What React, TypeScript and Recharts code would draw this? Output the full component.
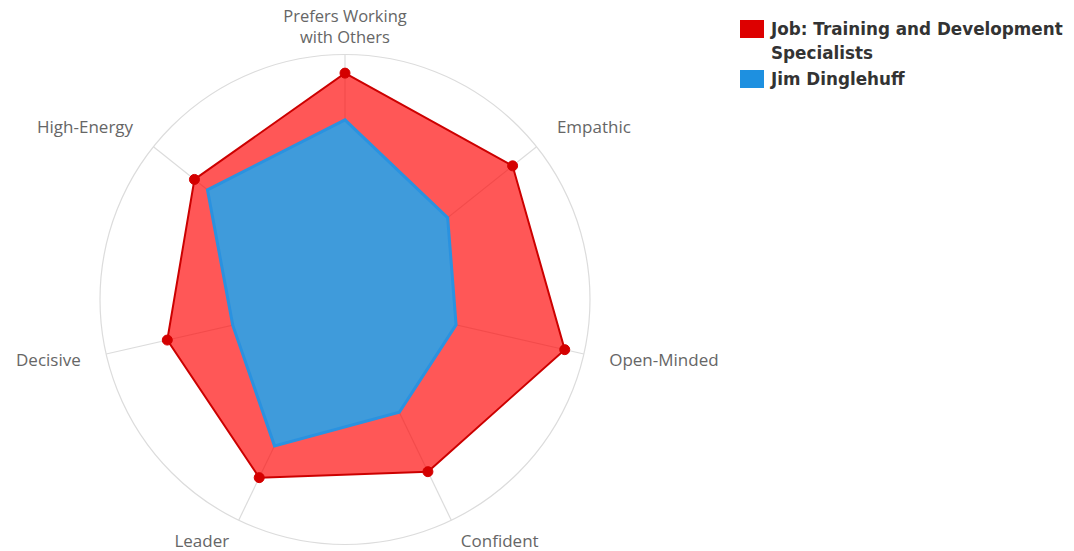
import React from "react";
import { RadarChart, Radar, PolarGrid, PolarAngleAxis, PolarRadiusAxis, Legend } from "recharts";

const categories = ["Prefers Working with Others", "Empathic", "Open-Minded", "Confident", "Leader", "Decisive", "High-Energy"];
const jobValues = [92.4, 87.5, 92, 78, 80.7, 74.4, 78.6];
const personValues = [73.3, 53.6, 46.5, 51.1, 66.3, 47, 71.8];
const seriesNames = ["Job: Training and Development Specialists", "Jim Dinglehuff"];
const seriesColors = ["#dd0000", "#1e90e0"];

const data = categories.map((c, i) => ({ name: c, job: jobValues[i], person: personValues[i] }));

const CX = 337;
const CY = 299.5;
const R = 245;

const AngleTick = (props: any) => {
  const { payload, index } = props;
  const n = categories.length;
  const ang = (90 - (360 / n) * index) * Math.PI / 180;
  const cos = Math.cos(ang);
  const sin = Math.sin(ang);
  const d = R + 26;
  let x = CX + cos * d;
  let y = CY - sin * d;
  let anchor: "start" | "middle" | "end" = Math.abs(cos) < 0.1 ? "middle" : cos > 0 ? "start" : "end";
  const label: string = payload.value;
  const style = { fontFamily: "'Open Sans', sans-serif", fontSize: 17, fill: "#666" };
  if (anchor === "middle" && sin > 0) {
    const words = label.split(" ");
    const l1 = words.slice(0, 2).join(" ");
    const l2 = words.slice(2).join(" ");
    return (
      <g>
        <text x={x} y={16} dy="0.35em" textAnchor="middle" style={{ ...style, fontSize: 16.5 }}>{l1}</text>
        <text x={x} y={37} dy="0.35em" textAnchor="middle" style={{ ...style, fontSize: 16.5 }}>{l2}</text>
      </g>
    );
  }
  if (sin > 0.3) y -= 3;
  if (sin < -0.3) { y = CY - sin * (R + 22) + 1; x = CX + cos * (R + 22); }
  return (
    <text x={x} y={y} dy="0.35em" textAnchor={anchor} style={style}>
      {label}
    </text>
  );
};

const LegendContent = () => (
  <div style={{ fontFamily: "'DejaVu Sans', sans-serif", fontWeight: 700, fontSize: 16.8, color: "#333", lineHeight: "24px" }}>
    {seriesNames.map((s, i) => (
      <div key={s} style={{ display: "flex", alignItems: "flex-start", marginBottom: 2 }}>
        <div style={{ width: 24, height: 18, background: seriesColors[i], marginTop: 3, marginRight: 7, flex: "none" }} />
        <div style={{ width: 320 }}>{i === 0 ? (<>Job: Training and Development<br />Specialists</>) : s}</div>
      </div>
    ))}
  </div>
);

export default function App() {
  return (
    <div style={{ width: 1058, height: 551, position: "relative", marginTop: -8 }}>
      <RadarChart width={1058} height={551} data={data} cx={CX} cy={CY} outerRadius={R} margin={{ top: 0, right: 0, bottom: 0, left: 0 }} startAngle={90} endAngle={-270}>
        <PolarGrid gridType="circle" polarRadius={[R]} stroke="#dcdcdc" strokeWidth={1.2} />
        <PolarAngleAxis dataKey="name" tick={AngleTick} tickLine={false} axisLine={false} />
        <PolarRadiusAxis domain={[0, 100]} tick={false} axisLine={false} tickCount={2} />
        <Radar name={seriesNames[0]} dataKey="job" stroke="#cc0000" strokeWidth={2} fill="#ff0000" fillOpacity={0.66} isAnimationActive={false}
          dot={{ r: 5, fill: "#d40000", stroke: "#d40000", strokeWidth: 1, fillOpacity: 1 }} />
        <Radar name={seriesNames[1]} dataKey="person" stroke="#2a92e0" strokeWidth={3} fill="#3f9bdb" fillOpacity={1} isAnimationActive={false} dot={false} />
        <Legend content={LegendContent} wrapperStyle={{ position: "absolute", top: 17, left: 732, width: 335 }} />
      </RadarChart>
    </div>
  );
}
